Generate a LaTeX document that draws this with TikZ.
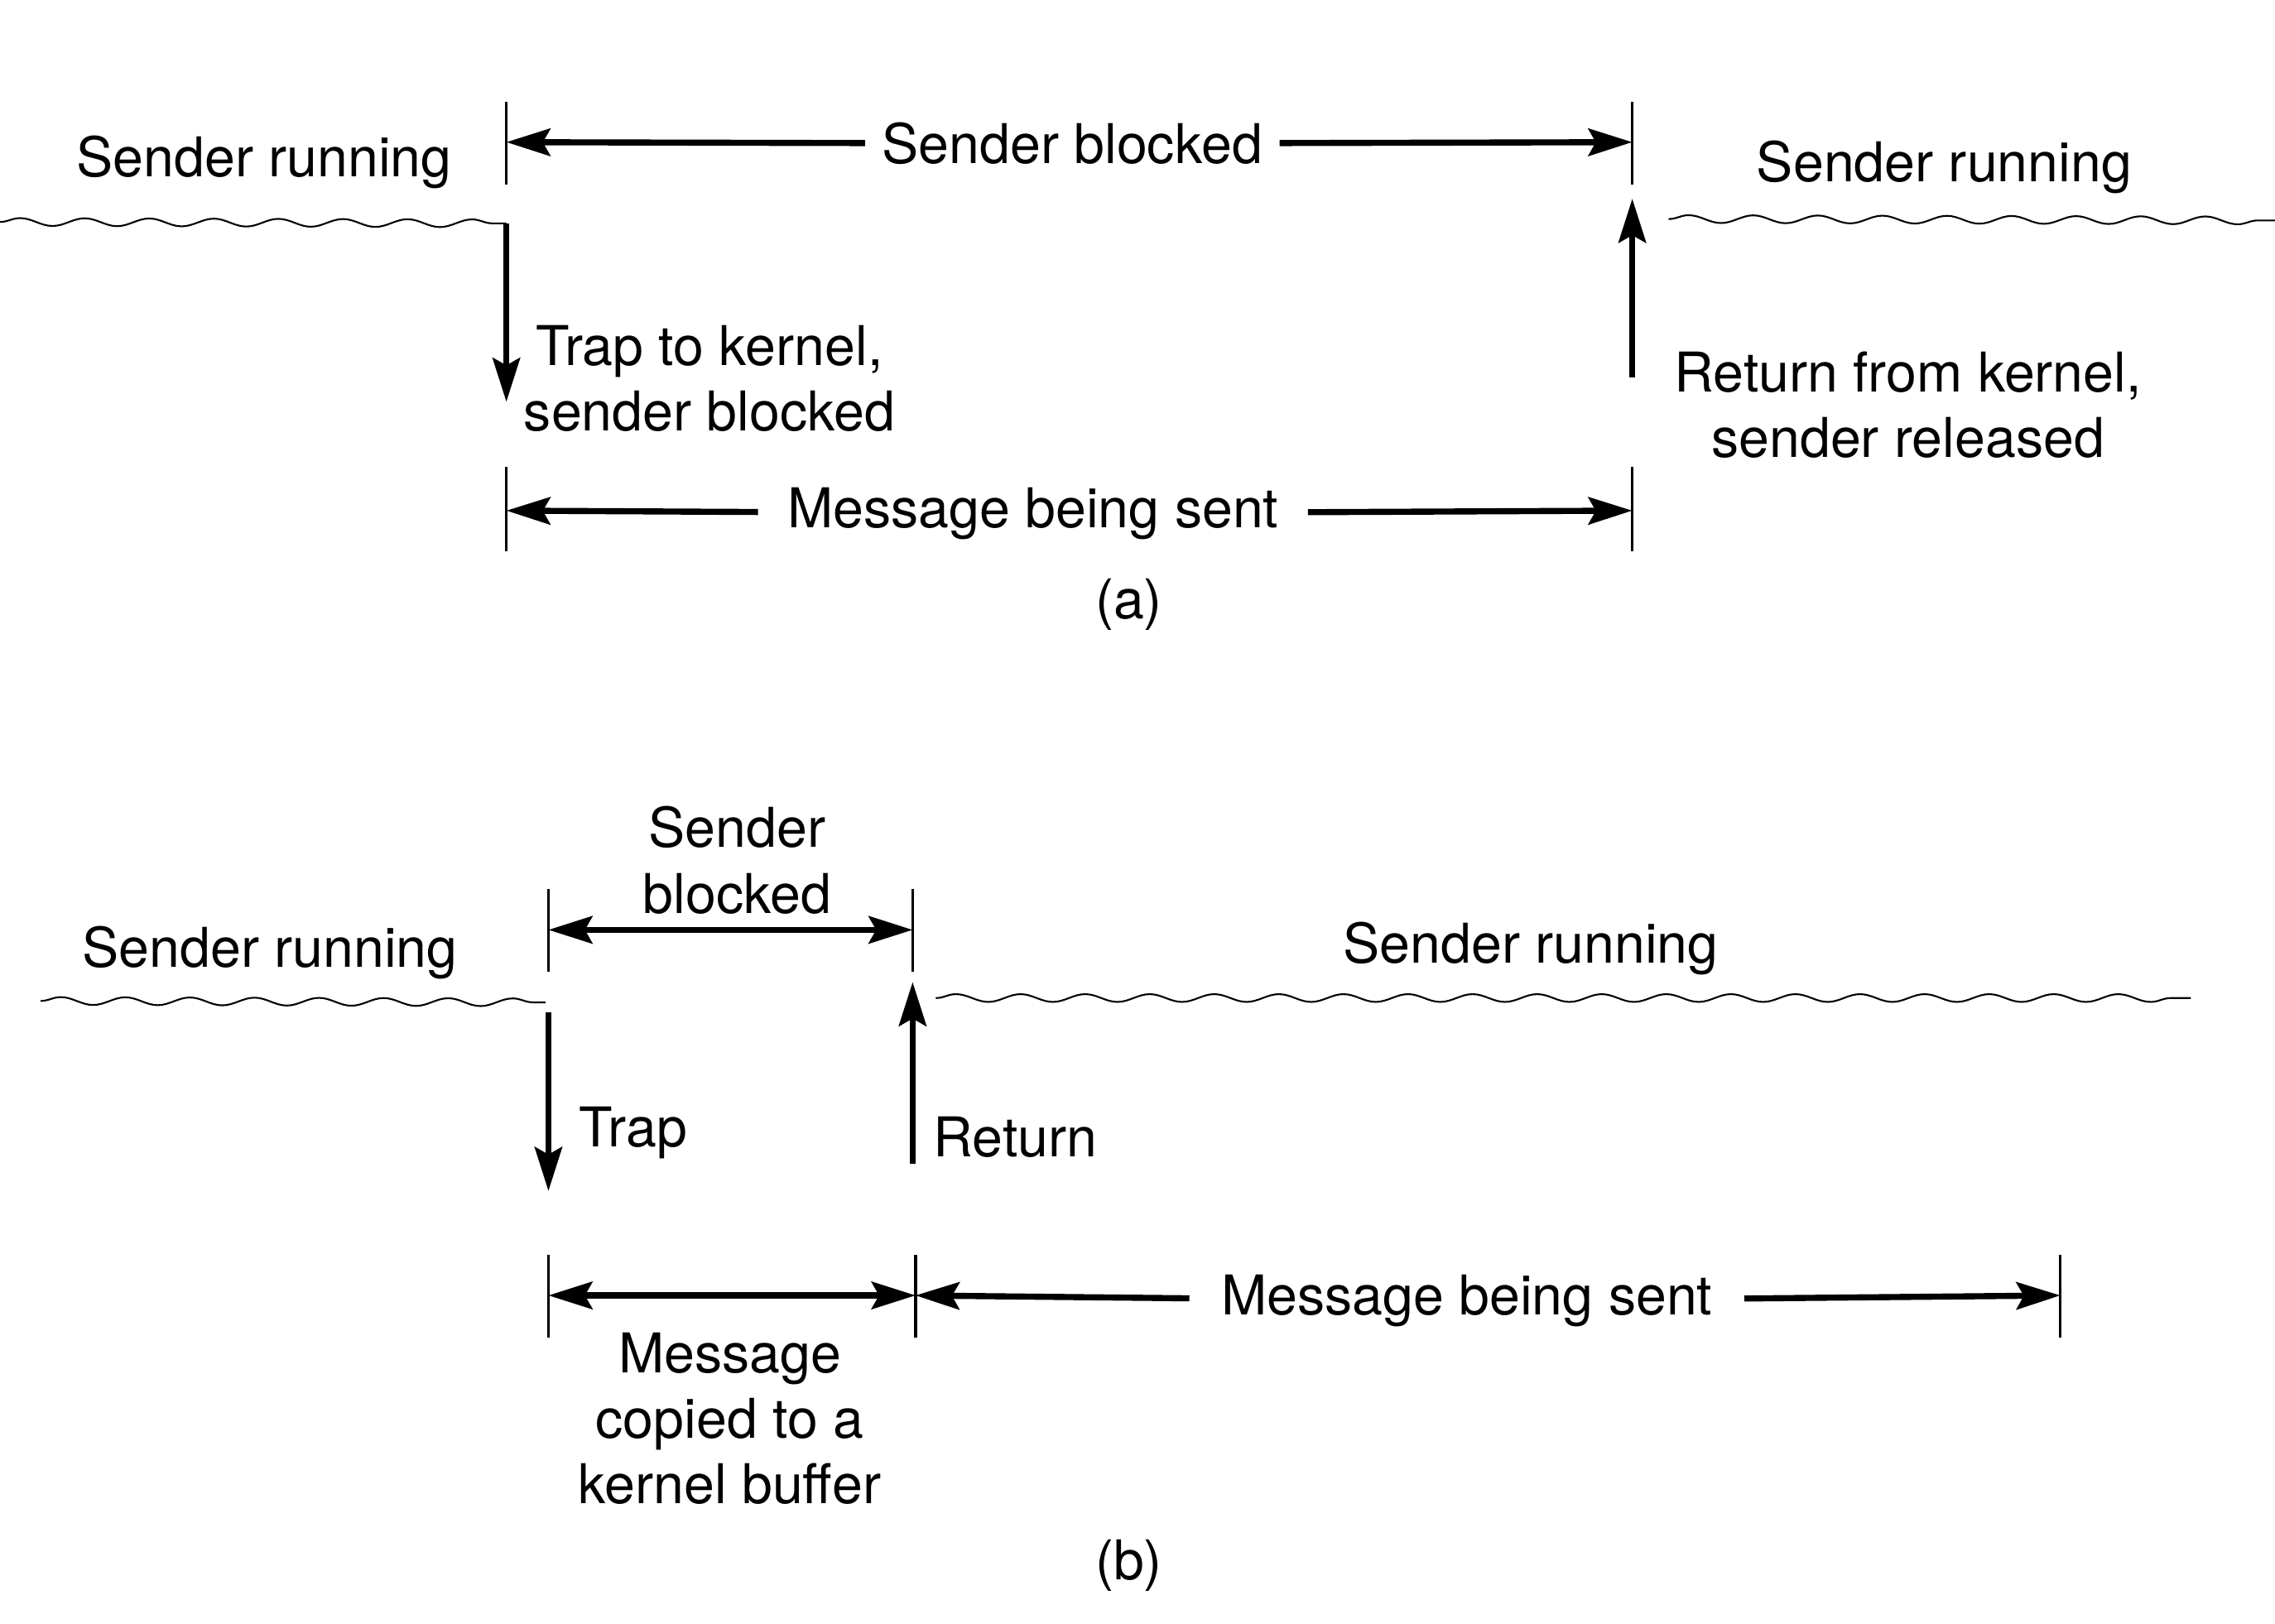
\documentclass[tikz,border=0pt]{standalone}
\usepackage{fontspec}
\setmainfont{TeX Gyre Heros}
\usetikzlibrary{arrows.meta,decorations.pathmorphing}
\begin{document}
\begin{tikzpicture}[x=0.17526mm,y=-0.17526mm,
  lbl/.style={font=\fontsize{18.85}{22.5}\selectfont, inner sep=0pt, align=center},
  gaplbl/.style={lbl, inner xsep=2.0mm},
  widegaplbl/.style={lbl, inner xsep=3.5mm},
  tickline/.style={line width=1pt},
  tip/.style={-{Stealth[length=5.3mm,width=3.3mm,inset=0.9mm]}},
  bitip/.style={{Stealth[length=5.3mm,width=3.3mm,inset=0.9mm]}-{Stealth[length=5.3mm,width=3.3mm,inset=0.9mm]}},
  heavy/.style={line width=2.1pt},
  wave/.style={line width=0.6pt, decorate, decoration={snake, segment length=7.8mm, amplitude=0.47mm}}]
\useasboundingbox (0,0) rectangle (1568,1119);

% ---------------- (a) ----------------
\draw[tickline] (349,70) -- (349,127);
\draw[tickline] (1125,70) -- (1125,127);
\draw[tickline] (349,322) -- (349,380);
\draw[tickline] (1125,322) -- (1125,380);
\coordinate (aTL) at (349,98);
\coordinate (aTR) at (1125,98);
\coordinate (aML) at (349,352);
\coordinate (aMR) at (1125,352);

\node[lbl] (aRunL) at (182,112) {Sender running};
\node[lbl] (aRunR) at (1340,115) {Sender running};
\node[gaplbl] (aBlk) at (739,99) {Sender blocked};
\node[widegaplbl] (aMsg) at (712,354) {Message being sent};
\node[lbl] (aTrap) at (489,261) {Trap to kernel,\\sender blocked};
\node[lbl] (aRet) at (1315,279) {Return from kernel,\\sender released};
\node[lbl] (aCap) at (778,417) {(a)};

\draw[heavy,tip] (aBlk) -- (aTL);
\draw[heavy,tip] (aBlk) -- (aTR);
\draw[heavy,tip] (aMsg) -- (aML);
\draw[heavy,tip] (aMsg) -- (aMR);

\coordinate (aW1s) at (0,153);
\coordinate (aW1e) at (349,154);
\coordinate (aW2s) at (1150,151);
\coordinate (aW2e) at (1568,152);
\draw[wave] (aW1s) -- (aW1e);
\draw[wave] (aW2s) -- (aW2e);

\coordinate (aDs) at (349,154);
\coordinate (aDe) at (349,277);
\coordinate (aUs) at (1125,260);
\coordinate (aUe) at (1125,137);
\draw[heavy,tip] (aDs) -- (aDe);
\draw[heavy,tip] (aUs) -- (aUe);

% ---------------- (b) ----------------
\draw[tickline] (378,613) -- (378,670);
\draw[tickline] (629,613) -- (629,670);
\draw[tickline] (378,865) -- (378,922);
\draw[tickline] (631,865) -- (631,922);
\draw[tickline] (1420,865) -- (1420,922);
\coordinate (bTL) at (378,641);
\coordinate (bTR) at (629,641);
\coordinate (bML) at (378,893);
\coordinate (bMM) at (631,893);
\coordinate (bMR) at (1420,893);

\node[lbl] (bRunL) at (186,657) {Sender running};
\node[lbl] (bRunR) at (1055,654) {Sender running};
\node[lbl] (bBlk) at (508,593) {Sender\\blocked};
\node[lbl, anchor=west] (bTrap) at (399,781) {Trap};
\node[lbl, anchor=west] (bRet) at (643,784) {Return};
\node[widegaplbl, inner xsep=3.8mm] (bMsg) at (1011,897) {Message being sent};
\node[lbl] (bCopy) at (503,978) {Message\\copied to a\\kernel buffer};
\node[lbl] (bCap) at (778,1079) {(b)};

\draw[heavy,bitip] (bTL) -- (bTR);
\draw[heavy,bitip] (bML) -- (bMM);
\draw[heavy,tip] (bMsg) -- (bMM);
\draw[heavy,tip] (bMsg) -- (bMR);

\coordinate (bW1s) at (28,690);
\coordinate (bW1e) at (376,691);
\coordinate (bW2s) at (645,688);
\coordinate (bW2e) at (1510,688);
\draw[wave] (bW1s) -- (bW1e);
\draw[wave] (bW2s) -- (bW2e);

\coordinate (bDs) at (378,698);
\coordinate (bDe) at (378,821);
\coordinate (bUs) at (629,802);
\coordinate (bUe) at (629,677);
\draw[heavy,tip] (bDs) -- (bDe);
\draw[heavy,tip] (bUs) -- (bUe);
\end{tikzpicture}
\end{document}
